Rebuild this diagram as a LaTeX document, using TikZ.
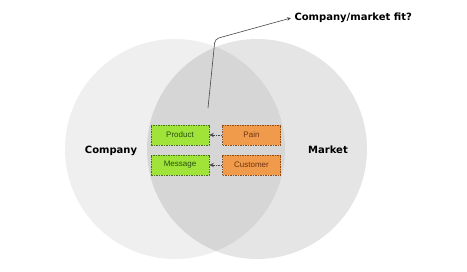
\documentclass[tikz,border=0pt]{standalone}
\usepackage{fontspec}
\setmainfont{Liberation Sans}
\newfontfamily\labelfont{DejaVu Sans}
\definecolor{leftgray}{RGB}{239,239,239}
\definecolor{limefill}{RGB}{160,228,58}
\definecolor{limeedge}{RGB}{70,115,25}
\definecolor{limetext}{RGB}{40,80,15}
\definecolor{orangefill}{RGB}{240,155,75}
\definecolor{orangeedge}{RGB}{140,75,25}
\definecolor{orangetext}{RGB}{110,50,15}
\definecolor{arrowgray}{RGB}{70,70,70}
\usetikzlibrary{positioning, arrows.meta}

\begin{document}
\begin{tikzpicture}[
    x=1pt, y=-1pt,
    ours/.style={fill=limefill, draw=limeedge, text=limetext, dash pattern=on 1.5pt off 1pt, line width=0.5pt,
      minimum width=58pt, minimum height=20pt, inner sep=2pt, font=\fontsize{8}{9.5}\selectfont},
    theirs/.style={ours, fill=orangefill, draw=orangeedge, text=orangetext},
    feeds/.style={-{Stealth[length=4.5pt,width=4pt]}, dash pattern=on 1.5pt off 1pt, draw=arrowgray, line width=0.6pt},
    bigword/.style={font=\labelfont\bfseries\fontsize{10}{12}\selectfont},
  ]
    \useasboundingbox (0,0) rectangle (467,272);
    % the two circles
    \fill[leftgray] (175,149) circle (110);
    \fill[black, opacity=0.1] (257,149) circle (110);
    \node[bigword] (company) at (111,151) {Company};
    \node[bigword] (market) at (328,150) {Market};
    % boxes in the overlap
    \node[ours] (product) at (180,135) {Product};
    \node[ours] (message) at (180,165) {Message};
    \node[theirs] (pain) at (251.5,135) {Pain};
    \node[theirs] (customer) at (251.5,165) {Customer};
    \draw[feeds] (pain) -- (product);
    \draw[feeds] (customer) -- (message);
    % callout
    \node[bigword, anchor=west] (fit) at (291,18) {Company/market fit?};
    \coordinate (foot) at (208,108);
    \draw[-{Stealth[length=4pt,width=3.5pt]}, draw=arrowgray, line width=0.6pt, rounded corners=4pt]
      (foot) -- (215,39) -- (fit.west);
\end{tikzpicture}
\end{document}
